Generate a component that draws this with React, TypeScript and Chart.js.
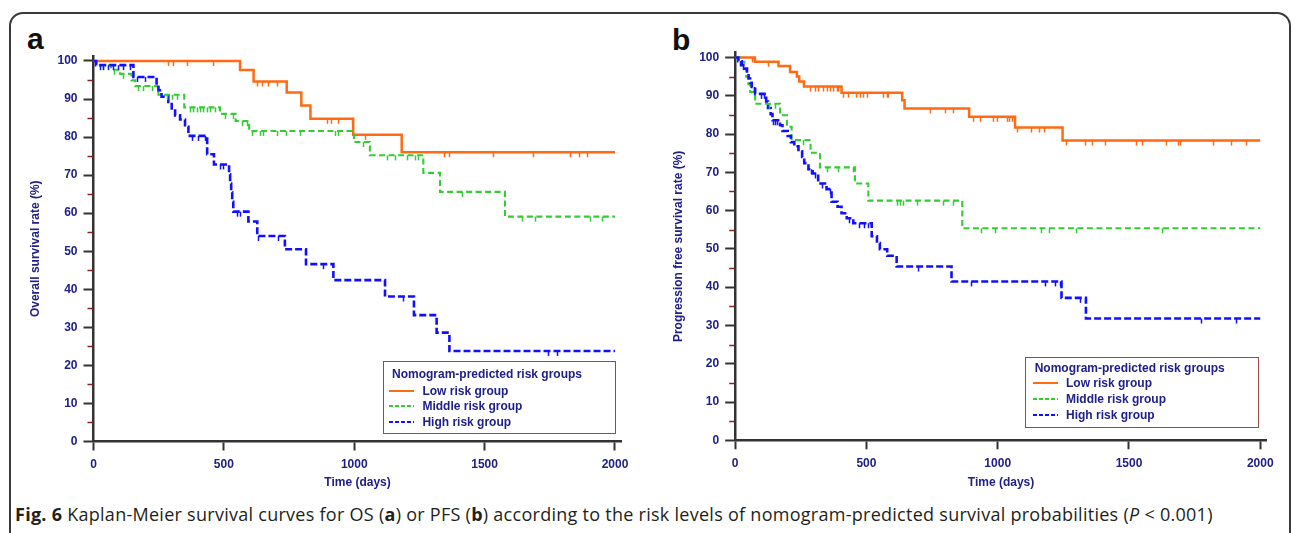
import React, { useEffect, useRef } from 'react';
import { Chart, registerables } from 'chart.js';

Chart.register(...registerables);

// ---------- DATA ----------
const X_TICKS = [0, 500, 1000, 1500, 2000];
const Y_TICKS = [0, 10, 20, 30, 40, 50, 60, 70, 80, 90, 100];
const Y_MINOR = [5, 15, 25, 35, 45, 55, 65, 75, 85, 95];
const GROUPS = ['Low risk group', 'Middle risk group', 'High risk group'];

// Panel a: overall survival
const osLowDays = [0, 562, 614, 741, 797, 832, 996, 1182, 2000];
const osLowSurv = [100, 97.6, 94.6, 91.7, 88.3, 84.8, 80.6, 76.0, 76.0];
const osLowCens = [287, 306, 357, 459, 626, 645, 670, 703, 897, 910, 939, 990, 1041, 1344, 1364, 1532, 1686, 1828, 1862, 1893];

const osMidDays = [0, 12, 68, 102, 146, 160, 249, 348, 485, 545, 597, 999, 1060, 1265, 1329, 1578, 2000];
const osMidSurv = [100, 98.9, 97.7, 96.6, 94.9, 93.4, 91.1, 87.8, 86.1, 84.2, 81.6, 78.7, 75.2, 70.6, 65.6, 59.1, 59.1];
const osMidCens = [35, 80, 114, 172, 191, 223, 281, 300, 319, 370, 383, 396, 408, 421, 434, 447, 466, 504, 536, 568, 590, 606, 638, 651, 702, 740, 792, 926, 939, 1035, 1124, 1156, 1201, 1233, 1246, 1412, 1642, 1693, 1904, 1949];

const osHighDays = [0, 10, 153, 242, 249, 261, 287, 300, 313, 332, 351, 364, 436, 462, 520, 524, 528, 532, 536, 594, 628, 734, 815, 920, 1118, 1229, 1316, 1365, 2000];
const osHighSurv = [100, 98.9, 95.8, 93.6, 92.3, 90.6, 89.2, 87.5, 85.7, 84.6, 82.7, 80.3, 75.5, 72.8, 70.2, 67.8, 65.5, 63.0, 60.4, 57.8, 54.0, 50.5, 46.6, 42.4, 38.1, 33.2, 28.6, 23.8, 23.8];
const osHighCens = [25, 38, 57, 76, 95, 114, 140, 166, 197, 377, 402, 428, 485, 498, 549, 562, 632, 709, 881, 1188, 1743, 1777];

// Panel b: progression free survival
const pfsLowDays = [0, 75, 165, 209, 235, 244, 262, 405, 636, 645, 891, 1066, 1247, 2000];
const pfsLowSurv = [100, 98.9, 97.8, 96.2, 95.0, 93.7, 92.4, 90.8, 88.8, 86.7, 84.5, 81.7, 78.3, 78.3];
const pfsLowCens = [63, 126, 285, 304, 317, 335, 348, 361, 374, 386, 393, 412, 431, 462, 475, 488, 501, 564, 577, 583, 741, 799, 828, 907, 932, 983, 996, 1034, 1044, 1055, 1072, 1125, 1157, 1177, 1262, 1332, 1361, 1408, 1526, 1551, 1640, 1687, 1694, 1821, 1888, 1945];

const pfsMidDays = [0, 25, 35, 42, 50, 57, 76, 171, 197, 215, 287, 323, 456, 507, 865, 2000];
const pfsMidSurv = [100, 98.9, 97.0, 95.0, 93.0, 91.0, 87.9, 84.9, 81.9, 78.4, 75.1, 71.3, 67.1, 62.6, 55.4, 55.4];
const pfsMidCens = [127, 152, 260, 348, 393, 450, 615, 628, 640, 691, 793, 831, 938, 989, 1165, 1195, 1298, 1627];

const pfsHighDays = [0, 12, 25, 38, 45, 51, 57, 63, 76, 118, 125, 135, 142, 171, 180, 200, 212, 225, 241, 255, 263, 279, 295, 316, 348, 367, 390, 405, 425, 450, 520, 540, 551, 579, 615, 824, 1243, 1336, 2000];
const pfsHighSurv = [100, 99.0, 98.0, 97.1, 95.8, 94.5, 93.4, 92.3, 90.5, 88.5, 86.8, 85.2, 83.6, 82.3, 80.8, 79.5, 77.9, 76.8, 75.5, 74.0, 72.4, 70.8, 69.7, 67.1, 65.6, 62.3, 61.0, 59.3, 58.0, 56.7, 53.3, 51.5, 49.9, 48.2, 45.4, 41.5, 37.2, 31.8, 31.8];
const pfsHighCens = [20, 30, 70, 100, 110, 145, 152, 160, 290, 305, 330, 360, 432, 470, 490, 505, 697, 900, 1180, 1218, 1237, 1313, 1776, 1907];

// ---------- STYLE ----------
const ORANGE = '#ff6a12';
const GREEN = '#33cc33';
const BLUE = '#1010ff';
const NAVY = '#20208a';
const AXIS = '#333333';
const MINOR = '#8b2020';
const FONT = '"Liberation Sans", Arial, Helvetica, sans-serif';

const kmPlugin = {
  id: 'kmExtras',
  afterDatasetsDraw(chart: any) {
    const ctx = chart.ctx;
    const xs = chart.scales.x;
    const ys = chart.scales.y;
    chart.data.datasets.forEach((ds: any) => {
      if (!ds.censor) return;
      ctx.save();
      ctx.strokeStyle = ds.borderColor;
      ctx.lineWidth = 1.5;
      ctx.setLineDash([]);
      ds.censor.forEach((d: number) => {
        let v = ds.data[0].y;
        for (const p of ds.data) if (p.x <= d) v = p.y;
        const px = Math.round(xs.getPixelForValue(d)) + 0.5;
        const py = ys.getPixelForValue(v);
        ctx.beginPath();
        ctx.moveTo(px, py);
        ctx.lineTo(px, py + 5);
        ctx.stroke();
      });
      ctx.restore();
    });
  },
  afterDraw(chart: any) {
    const ctx = chart.ctx;
    const ys = chart.scales.y;
    const left = chart.chartArea.left;
    ctx.save();
    ctx.strokeStyle = MINOR;
    ctx.lineWidth = 1.5;
    Y_MINOR.forEach((v) => {
      const py = Math.round(ys.getPixelForValue(v)) + 0.5;
      ctx.beginPath();
      ctx.moveTo(left - 6, py);
      ctx.lineTo(left - 1, py);
      ctx.stroke();
    });
    ctx.restore();
  },
};

function series(days: number[], surv: number[]) {
  return days.map((d, i) => ({ x: d, y: surv[i] }));
}

type Panel = {
  yTitle: string;
  sets: { days: number[]; surv: number[]; cens: number[] }[];
  yAxisWidth: number;
  xAxisHeight: number;
  padRight: number;
  padTop: number;
  yTitlePad: number;
  xTitlePad: number;
};

function makeConfig(p: Panel): any {
  const colors = [ORANGE, GREEN, BLUE];
  const dashes = [[], [6, 3.5], [7, 3]];
  const widths = [2.5, 2.1, 2.6];
  const orders = [2, 1, 0];
  return {
    type: 'line',
    data: {
      datasets: p.sets.map((s, i) => ({
        label: GROUPS[i],
        data: series(s.days, s.surv),
        censor: s.cens,
        borderColor: colors[i],
        borderWidth: widths[i],
        borderDash: dashes[i],
        borderCapStyle: 'butt',
        stepped: 'before',
        pointRadius: 0,
        fill: false,
        tension: 0,
        order: orders[i],
      })),
    },
    options: {
      animation: false,
      responsive: false,
      devicePixelRatio: 1,
      layout: { padding: { left: 0, right: p.padRight, top: p.padTop, bottom: 0 } },
      plugins: { legend: { display: false }, tooltip: { enabled: false } },
      scales: {
        x: {
          type: 'linear',
          min: 0,
          max: 2025,
          afterBuildTicks: (s: any) => {
            s.ticks = X_TICKS.map((v) => ({ value: v }));
          },
          afterFit: (s: any) => {
            s.height = p.xAxisHeight;
          },
          ticks: {
            color: NAVY,
            font: { family: FONT, size: 12, weight: 'bold' },
            padding: 7,
            maxRotation: 0,
            autoSkip: false,
            callback: (v: any) => String(v),
          },
          grid: { display: true, drawOnChartArea: false, drawTicks: true, tickLength: 9, tickWidth: 2, tickColor: AXIS },
          border: { display: true, color: AXIS, width: 2.5 },
          title: { display: true, text: 'Time (days)', color: NAVY, font: { family: FONT, size: 12, weight: 'bold' }, padding: { top: 0, bottom: p.xTitlePad } },
        },
        y: {
          type: 'linear',
          min: 0,
          max: 101.3,
          afterBuildTicks: (s: any) => {
            s.ticks = Y_TICKS.map((v) => ({ value: v }));
          },
          afterFit: (s: any) => {
            s.width = p.yAxisWidth;
          },
          ticks: { color: NAVY, font: { family: FONT, size: 12, weight: 'bold' }, padding: 6, autoSkip: false, callback: (v: any) => String(v) },
          grid: { display: true, drawOnChartArea: false, drawTicks: true, tickLength: 10, tickWidth: 2, tickColor: AXIS },
          border: { display: true, color: AXIS, width: 2.5 },
          title: { display: true, text: p.yTitle, color: NAVY, font: { family: FONT, size: 12, weight: 'bold' }, padding: { top: p.yTitlePad, bottom: 0 } },
        },
      },
    },
    plugins: [kmPlugin],
  };
}

const CW = 650;
const CH = 470;

function KMChart({ panel, left, top }: { panel: Panel; left: number; top: number }) {
  const ref = useRef<HTMLCanvasElement>(null);
  useEffect(() => {
    const chart = new Chart(ref.current as HTMLCanvasElement, makeConfig(panel));
    return () => chart.destroy();
  }, []);
  return (
    <canvas
      ref={ref}
      width={CW}
      height={CH}
      style={{ position: 'absolute', left, top, width: CW, height: CH }}
    />
  );
}

function LegendBox({ box, titleX, titleY, sampleX, textX, rowYs }: any) {
  const colors = [ORANGE, GREEN, BLUE];
  const dashes = ['', '4 2', '4 2'];
  const txt: React.CSSProperties = {
    position: 'absolute',
    fontFamily: FONT,
    fontWeight: 'bold',
    fontSize: 12,
    lineHeight: '14px',
    color: NAVY,
    whiteSpace: 'nowrap',
  };
  return (
    <>
      <div
        style={{
          position: 'absolute',
          left: box[0],
          top: box[1],
          width: box[2],
          height: box[3],
          border: '1.5px solid #9a4848',
          boxSizing: 'border-box',
        }}
      />
      <div style={{ ...txt, left: titleX, top: titleY - 7 }}>Nomogram-predicted risk groups</div>
      {GROUPS.map((g, i) => (
        <React.Fragment key={g}>
          <svg style={{ position: 'absolute', left: sampleX, top: rowYs[i] - 2 }} width={25} height={4}>
            <line x1={0} y1={2} x2={25} y2={2} stroke={colors[i]} strokeWidth={2} strokeDasharray={dashes[i]} />
          </svg>
          <div style={{ ...txt, left: textX, top: rowYs[i] - 7 }}>{g}</div>
        </React.Fragment>
      ))}
    </>
  );
}

const panelA: Panel = {
  yTitle: 'Overall survival rate (%)',
  sets: [
    { days: osLowDays, surv: osLowSurv, cens: osLowCens },
    { days: osMidDays, surv: osMidSurv, cens: osMidCens },
    { days: osHighDays, surv: osHighSurv, cens: osHighCens },
  ],
  yAxisWidth: 93.5,
  xAxisHeight: 58.5,
  padRight: 28.5,
  padTop: 26,
  yTitlePad: 28.5,
  xTitlePad: 9.8,
};

const panelB: Panel = {
  yTitle: 'Progression free survival rate (%)',
  sets: [
    { days: pfsLowDays, surv: pfsLowSurv, cens: pfsLowCens },
    { days: pfsMidDays, surv: pfsMidSurv, cens: pfsMidCens },
    { days: pfsHighDays, surv: pfsHighSurv, cens: pfsHighCens },
  ],
  yAxisWidth: 90.2,
  xAxisHeight: 59.7,
  padRight: 28.2,
  padTop: 22.5,
  yTitlePad: 26.3,
  xTitlePad: 10.1,
};

export default function App() {
  const letter: React.CSSProperties = {
    position: 'absolute',
    fontFamily: FONT,
    fontWeight: 'bold',
    fontSize: 30,
    lineHeight: '30px',
    color: '#111',
  };
  return (
    <div style={{ position: 'absolute', left: 0, top: 0, width: 1295, height: 533, background: '#fff', overflow: 'hidden' }}>
      <div
        style={{
          position: 'absolute',
          left: 9,
          top: 12,
          width: 1282,
          height: 560,
          border: '2px solid #3a3a3a',
          borderRadius: 14,
          boxSizing: 'border-box',
        }}
      />
      <div style={{ ...letter, left: 27, top: 24 }}>a</div>
      <div style={{ ...letter, left: 672, top: 25 }}>b</div>
      <KMChart panel={panelA} left={0} top={30} />
      <KMChart panel={panelB} left={645} top={30} />
      <LegendBox box={[382.5, 361, 233.5, 73]} titleX={392} titleY={374} sampleX={389} textX={422.4} rowYs={[390.7, 406, 421.7]} />
      <LegendBox box={[1025, 357, 234, 70.5]} titleX={1034.7} titleY={368.3} sampleX={1032.6} textX={1066} rowYs={[383.3, 399.3, 415]} />
      <div
        style={{
          position: 'absolute',
          left: 15,
          top: 505,
          fontFamily: '"Open Sans", "Noto Sans", sans-serif',
          fontSize: 18,
          letterSpacing: '0.27px',
          lineHeight: '18px',
          color: '#231f20',
          whiteSpace: 'nowrap',
        }}
      >
        <b>Fig. 6</b> Kaplan-Meier survival curves for OS (<b>a</b>) or PFS (<b>b</b>) according to the risk levels of nomogram-predicted survival probabilities (<i>P</i> &lt; 0.001)
      </div>
    </div>
  );
}
